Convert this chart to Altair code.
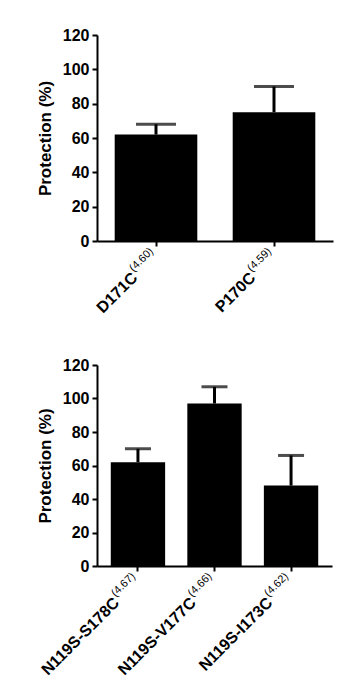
import altair as alt
import pandas as pd

# ---- data ----
top_cats = ["D171C", "P170C"]
top_sups = ["(4.60)", "(4.59)"]
top_vals = [62, 75]
top_errs = [6, 15]

bot_cats = ["N119S-S178C", "N119S-V177C", "N119S-I173C"]
bot_sups = ["(4.67)", "(4.66)", "(4.62)"]
bot_vals = [62, 97, 48]
bot_errs = [8, 10, 18]

y_ticks = [0, 20, 40, 60, 80, 100, 120]

FONT = "Liberation Sans"
SUP_SIZE = 11
SUP_W = 29  # approx pixel width of superscript text


def panel(cats, sups, vals, errs, w, h, pin, pout, cap):
    df = pd.DataFrame({
        "cat": cats, "sup": sups, "val": vals,
        "top": [v + e for v, e in zip(vals, errs)],
    })
    x = alt.X("cat:N", sort=cats, title=None,
              scale=alt.Scale(paddingInner=pin, paddingOuter=pout),
              axis=alt.Axis(labels=False, ticks=True, domain=True))
    yaxis = alt.Axis(values=y_ticks, grid=False, titlePadding=8,
                     labelOverlap=False)
    yscale = alt.Scale(domain=[0, 120], nice=False)
    y = alt.Y("val:Q", title="Protection (%)", scale=yscale, axis=yaxis)
    ytop = alt.Y("top:Q", title="Protection (%)", scale=yscale, axis=yaxis)
    base = alt.Chart(df)
    bars = base.mark_bar(color="black").encode(x=x, y=y)
    rule = base.mark_rule(color="black", strokeWidth=3).encode(
        x=x, y=y, y2="top:Q")
    tick = base.mark_tick(color="black", thickness=3, size=cap).encode(
        x=x, y=ytop)
    main = base.mark_text(font=FONT, fontWeight="bold", fontSize=16,
                          angle=315, align="right", baseline="middle",
                          dx=-SUP_W - 1, color="black").encode(
        x=x, y=alt.value(h + 13), text="cat:N")
    sup = base.mark_text(font=FONT, fontSize=SUP_SIZE, angle=315,
                         align="right", baseline="middle", dy=-6,
                         color="black").encode(
        x=x, y=alt.value(h + 13), text="sup:N")
    return alt.layer(bars, rule, tick, main, sup).properties(width=w, height=h)


top = panel(top_cats, top_sups, top_vals, top_errs, 236, 206, 0.3, 0.15, 40)
bot = panel(bot_cats, bot_sups, bot_vals, bot_errs, 235, 201, 0.29, 0.18, 26)

chart = alt.vconcat(top, bot, spacing=40).properties(
    padding={"left": 36, "top": 27, "right": 5, "bottom": 5},
    background="white",
).configure_view(stroke=None).configure_axis(
    domainColor="black", domainWidth=2, tickColor="black", tickWidth=2,
    tickSize=5, labelFont=FONT, labelFontWeight="bold", labelFontSize=16,
    labelColor="black", labelPadding=3, titleFont=FONT, titleFontWeight="bold",
    titleFontSize=17, titleColor="black",
)

chart.save("out.html", embed_options={"renderer": "svg", "actions": False})
